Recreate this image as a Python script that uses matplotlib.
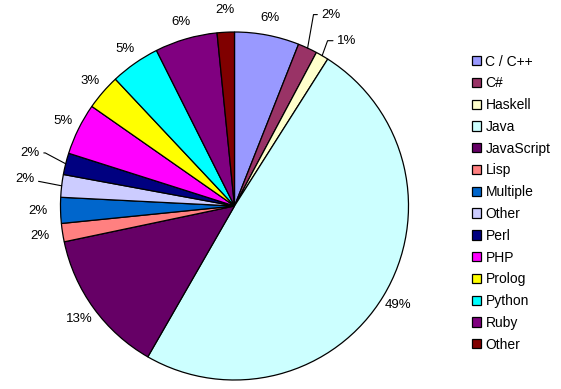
import numpy as np
import matplotlib.pyplot as plt

plt.rcParams['font.family'] = ['Liberation Sans', 'DejaVu Sans']

languages = ['C / C++', 'C#', 'Haskell', 'Java', 'JavaScript', 'Lisp', 'Multiple',
             'Other', 'Perl', 'PHP', 'Prolog', 'Python', 'Ruby', 'Other']
shares = [6.0, 1.8, 1.2, 49.3, 13.4, 1.7, 2.4, 2.1, 2.0, 4.8, 3.3, 4.6, 5.8, 1.6]
colors = ['#9999FF', '#993366', '#FFFFCC', '#CCFFFF', '#660066', '#FF8080', '#0066CC',
          '#CCCCFF', '#000080', '#FF00FF', '#FFFF00', '#00FFFF', '#800080', '#800000']

# labels that sit further out with a leader line: index -> (x, y, align, leader angle)
leaders = {1: (0.50, 1.10, 'left', 80), 2: (0.59, 0.95, 'left', 70),
           7: (-1.15, 0.155, 'right', 169), 8: (-1.12, 0.305, 'right', 152)}

fig = plt.figure(figsize=(5.61, 3.89), dpi=100)
R = 174
cx, cy = 234.5, 206
ax = fig.add_axes([(cx - R) / 561, (389 - cy - R) / 389, 2 * R / 561, 2 * R / 389])

wedges, _ = ax.pie(shares, colors=colors, startangle=90, counterclock=False,
                   wedgeprops=dict(edgecolor='black', linewidth=0.9))
ax.set_xlim(-1, 1)
ax.set_ylim(-1, 1)
ax.set_aspect('equal')
ax.axis('off')

total = sum(shares)
start = 0.0
for i, v in enumerate(shares):
    mid = np.radians(start + v / total * 360 / 2)
    start += v / total * 360
    txt = '%.0f%%' % (v / total * 100)
    ex, ey = np.sin(mid), np.cos(mid)
    if i in leaders:
        tx, ty, ha, ang = leaders[i]
        ax.annotate(txt, xy=(ex, ey), xytext=(tx, ty), ha=ha, va='center', fontsize=9.5,
                    arrowprops=dict(arrowstyle='-', color='black', lw=0.8,
                                    shrinkA=1, shrinkB=0,
                                    connectionstyle='angle,angleA=0,angleB=%d' % ang))
    else:
        r = 1.1 if v > 3 else 1.13
        ax.text(r * ex, r * ey, txt, ha='center', va='center', fontsize=9.5)

fig.legend(wedges, languages, loc='upper left', bbox_to_anchor=(466 / 561, 1 - 49 / 389),
           frameon=False, fontsize=10, handlelength=0.65, handleheight=0.65,
           handletextpad=0.35, labelspacing=0.56, borderaxespad=0)

fig.savefig('out.png', dpi=100)
